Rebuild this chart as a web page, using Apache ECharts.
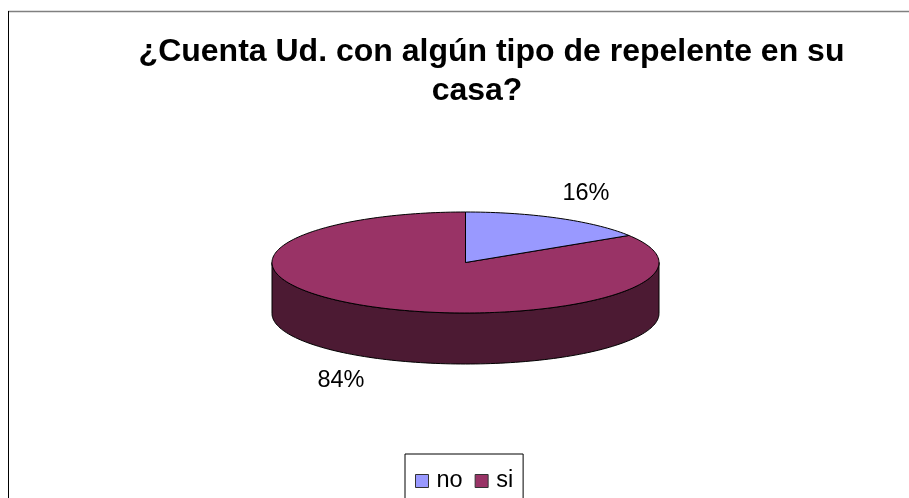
<!DOCTYPE html>
<html><head><meta charset="utf-8">
<style>html,body{margin:0;padding:0;background:#fff}#c{width:909px;height:498px}</style>
<script src="https://cdn.jsdelivr.net/npm/echarts@6/dist/echarts.min.js"></script>
</head><body><div id="c"></div>
<script>
const titleLines = ['¿Cuenta Ud. con algún tipo de repelente en su', 'casa?'];
const categories = ['no', 'si'];
const values = [16, 84];
const colors = ['#9999FF', '#993366'];
const wallColors = ['#4D4D80', '#4C1A33'];
const labelSpots = [[586, 193.5], [341, 381]];

const FONT = '"Liberation Sans", Arial, sans-serif';
const CX = 465.5, CY = 262.5, RX = 193.5, RY = 50.5, DEPTH = 51;
const total = values.reduce((a, b) => a + b, 0);
const pt = (deg, dy) => {
  const r = deg * Math.PI / 180;
  return [CX + RX * Math.sin(r), CY - RY * Math.cos(r) + (dy || 0)];
};
const arc = (a, b, dy) => {
  const out = [];
  const n = Math.max(2, Math.ceil(Math.abs(b - a) / 1.5));
  for (let i = 0; i <= n; i++) out.push(pt(a + (b - a) * i / n, dy));
  return out;
};

function renderSlice(params, api) {
  const val = api.value(0), before = api.value(1), i = params.seriesIndex;
  const a0 = before / total * 360, a1 = (before + val) / total * 360;
  const children = [];
  const w0 = Math.max(a0, 90), w1 = Math.min(a1, 270);
  if (w1 > w0) {
    children.push({
      type: 'polygon',
      shape: { points: arc(w0, w1, 0).concat(arc(w1, w0, DEPTH)) },
      style: { fill: wallColors[i], stroke: '#000', lineWidth: 1 }
    });
  }
  children.push({
    type: 'polygon',
    shape: { points: [[CX, CY]].concat(arc(a0, a1, 0)) },
    style: { fill: colors[i], stroke: '#000', lineWidth: 1, lineJoin: 'round' }
  });
  children.push({
    type: 'text',
    style: {
      x: labelSpots[i][0], y: labelSpots[i][1],
      text: Math.round(val / total * 100) + '%',
      fill: '#000', font: '23.5px ' + FONT, align: 'center', verticalAlign: 'middle'
    }
  });
  return { type: 'group', children };
}

let running = 0;
const series = categories.map((name, i) => {
  const d = [[values[i], running]];
  running += values[i];
  return {
    type: 'custom', name, coordinateSystem: 'none', renderItem: renderSlice,
    itemStyle: { color: colors[i] }, data: d, animation: false, clip: false,
    z: i === 1 ? 2 : 3
  };
});

const titleStyle = { fontFamily: FONT, fontWeight: 'bold', fontSize: 32, lineHeight: 36, color: '#000' };
const chart = echarts.init(document.getElementById('c'), null, { renderer: 'canvas' });
chart.setOption({
  animation: false,
  backgroundColor: '#fff',
  title: [
    { text: titleLines[0], left: 491.5, top: 34, padding: 0, textAlign: 'center', textStyle: titleStyle },
    { text: titleLines[1], left: 477, top: 73, padding: 0, textAlign: 'center', textStyle: titleStyle }
  ],
  legend: {
    data: categories, left: 405, top: 454, orient: 'horizontal',
    padding: [15, 10, 40, 10], itemGap: 12, itemWidth: 13, itemHeight: 13, icon: 'rect',
    borderColor: '#000', borderWidth: 1, backgroundColor: '#fff',
    itemStyle: { borderColor: '#333', borderWidth: 1 },
    textStyle: { fontFamily: FONT, fontSize: 23.5, color: '#000', padding: [0, 0, 0, 3] },
    selectedMode: false
  },
  graphic: [
    { type: 'line', shape: { x1: 8, y1: 11.5, x2: 909, y2: 11.5 }, style: { stroke: '#808080', lineWidth: 1.5 }, silent: true },
    { type: 'line', shape: { x1: 8.5, y1: 11, x2: 8.5, y2: 498 }, style: { stroke: '#000', lineWidth: 1 }, silent: true }
  ],
  series
});
</script></body></html>
